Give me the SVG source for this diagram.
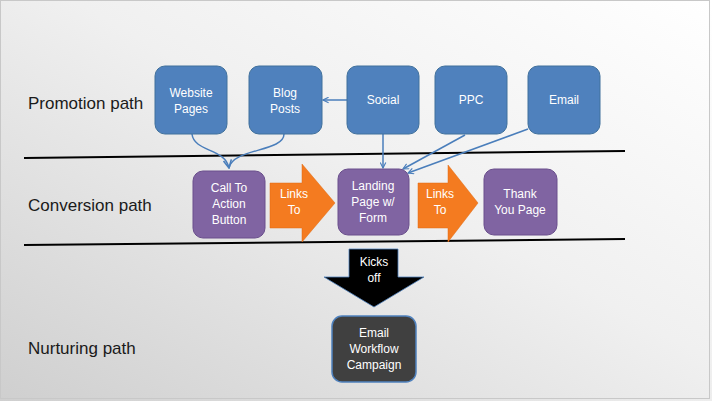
<svg xmlns="http://www.w3.org/2000/svg" width="712" height="401" viewBox="0 0 712 401">
<defs>
<linearGradient id="bg" x1="1" y1="0" x2="0" y2="1">
<stop offset="0" stop-color="#ffffff"/>
<stop offset="0.45" stop-color="#f0f0f0"/>
<stop offset="1" stop-color="#cfcfcf"/>
</linearGradient>
<marker id="ah" viewBox="0 0 10 10" refX="9" refY="5" markerWidth="7" markerHeight="7" orient="auto" markerUnits="userSpaceOnUse">
<path d="M1,1 L9,5 L1,9" fill="none" stroke="#4A7EBB" stroke-width="1.6"/>
</marker>
<marker id="ah2" viewBox="0 0 10 10" refX="9" refY="5" markerWidth="10" markerHeight="10" orient="auto" markerUnits="userSpaceOnUse">
<path d="M1,1 L9,5 L1,9" fill="none" stroke="#4A7EBB" stroke-width="1.6"/>
</marker>
</defs>
<style>
.lbl{font-family:"Liberation Sans",Arial,sans-serif;font-size:17px;fill:#1a1a1a}
.t{font-family:"Liberation Sans",Arial,sans-serif;font-size:12px;fill:#ffffff;text-anchor:middle}
.blue{fill:#4F81BD;stroke:#41719C;stroke-width:1}
.purple{fill:#8064A2;stroke:#6A4F8C;stroke-width:1}
.dark{fill:#404040;stroke:#4F81BD;stroke-width:1.5}
.orange{fill:#F47B20;stroke:#E06A10;stroke-width:0.5}
.conn{fill:none;stroke:#4A7EBB;stroke-width:1.5}
.sep{stroke:#000;stroke-width:2}
</style>
<rect width="712" height="401" fill="url(#bg)"/>
<rect x="0.5" y="0.5" width="709" height="398" fill="none" stroke="#c8c8c8" stroke-width="1"/>

<g id="labels">
<text class="lbl" x="28" y="109">Promotion path</text>
<text class="lbl" x="28" y="211">Conversion path</text>
<text class="lbl" x="28" y="354">Nurturing path</text>
</g>

<g id="separators">
<line class="sep" x1="24" y1="158" x2="625" y2="151"/>
<line class="sep" x1="24" y1="245" x2="625" y2="239"/>
</g>

<g id="connectors">
<path class="conn" d="M347,100 L323,100" marker-end="url(#ah)"/>
<path class="conn" d="M192,134 C194,152 225,148 229,168" marker-end="url(#ah2)"/>
<path class="conn" d="M284,134 C284,152 233,148 229,168"/>
<path class="conn" d="M383,134 L383,168" marker-end="url(#ah)"/>
<path class="conn" d="M465,135 L403,169" marker-end="url(#ah)"/>
<path class="conn" d="M528,129 L408,173" marker-end="url(#ah)"/>
</g>

<g id="website-pages">
<rect class="blue" x="155" y="66" width="72" height="68" rx="10"/>
<text class="t" x="191" y="97">Website</text>
<text class="t" x="191" y="113">Pages</text>
</g>
<g id="blog-posts">
<rect class="blue" x="249" y="66" width="73" height="68" rx="10"/>
<text class="t" x="285" y="97">Blog</text>
<text class="t" x="285" y="113">Posts</text>
</g>
<g id="social">
<rect class="blue" x="347" y="66" width="72" height="68" rx="10"/>
<text class="t" x="383" y="104">Social</text>
</g>
<g id="ppc">
<rect class="blue" x="435" y="66" width="72" height="68" rx="10"/>
<text class="t" x="471" y="104">PPC</text>
</g>
<g id="email">
<rect class="blue" x="528" y="66" width="72" height="68" rx="10"/>
<text class="t" x="564" y="104">Email</text>
</g>

<g id="call-to-action">
<rect class="purple" x="193" y="171" width="72" height="67" rx="10"/>
<text class="t" x="229" y="192">Call To</text>
<text class="t" x="229" y="208">Action</text>
<text class="t" x="229" y="224">Button</text>
</g>
<g id="links-to-1">
<polygon class="orange" points="270,183 302,183 302,164 335,203 302,242 302,228 270,228"/>
<text class="t" x="294" y="198">Links</text>
<text class="t" x="294" y="214">To</text>
</g>
<g id="landing-page">
<rect class="purple" x="338" y="169" width="71" height="66" rx="10"/>
<text class="t" x="373" y="190">Landing</text>
<text class="t" x="373" y="206">Page w/</text>
<text class="t" x="373" y="222">Form</text>
</g>
<g id="links-to-2">
<polygon class="orange" points="418,183 448,183 448,165 478,203 448,242 448,228 418,228"/>
<text class="t" x="440" y="198">Links</text>
<text class="t" x="440" y="214">To</text>
</g>
<g id="thank-you">
<rect class="purple" x="484" y="169" width="73" height="66" rx="10"/>
<text class="t" x="520" y="198">Thank</text>
<text class="t" x="520" y="214">You Page</text>
</g>

<g id="kicks-off">
<polygon points="349,249 398,249 398,277 424,277 374,307 324,277 349,277" fill="#000" stroke="#4F81BD" stroke-width="0.8"/>
<text class="t" x="374" y="266">Kicks</text>
<text class="t" x="374" y="282">off</text>
</g>
<g id="email-workflow">
<rect class="dark" x="332" y="316" width="84" height="66" rx="10"/>
<text class="t" x="374" y="337">Email</text>
<text class="t" x="374" y="353">Workflow</text>
<text class="t" x="374" y="369">Campaign</text>
</g>
</svg>
